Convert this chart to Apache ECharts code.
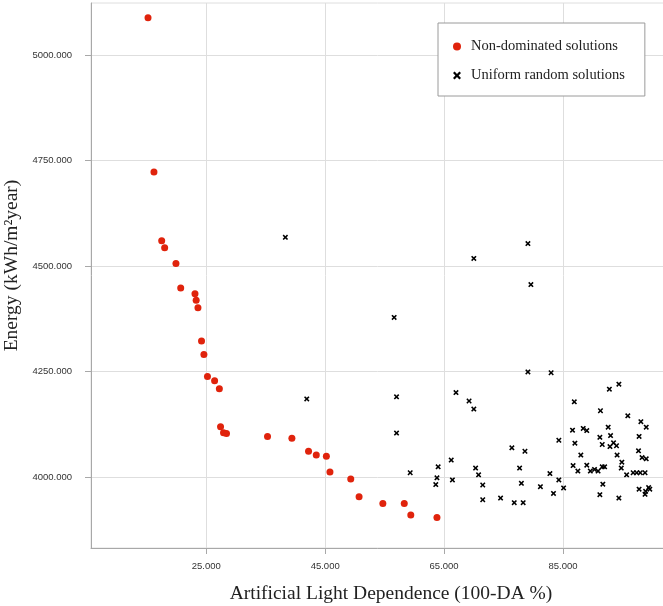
<!DOCTYPE html>
<html>
<head>
<meta charset="utf-8">
<script src="https://cdn.jsdelivr.net/npm/echarts@6/dist/echarts.min.js"></script>
<style>
  html, body { margin: 0; padding: 0; background: #fff; }
  #chart { width: 663px; height: 606px; }
</style>
</head>
<body>
<div id="chart"></div>
<script>
// non-dominated solutions (red dots)
const paretoX = [15.2, 16.2, 17.5, 18.0, 19.9, 20.7, 23.1, 23.3, 23.6, 24.2, 24.6, 25.2, 26.4, 27.2, 27.4,
  27.9, 28.4, 35.3, 39.4, 42.2, 43.5, 45.2, 45.8, 49.3, 50.7, 54.7, 58.3, 59.4, 63.8];
const paretoY = [5088, 4723, 4560, 4543, 4506, 4448, 4434, 4419, 4401, 4322, 4290, 4238, 4228, 4209, 4119,
  4105, 4103, 4096, 4092, 4061, 4052, 4049, 4012, 3995, 3953, 3937, 3937, 3910, 3904];

// uniform random solutions (black crosses)
const randomX = [38.3, 56.6, 41.9, 57.0, 79.1, 70.0, 79.6, 79.1, 83.0, 67.0, 92.8, 94.4, 57.0, 59.3, 64.0,
  63.8, 63.6, 69.2, 70.0, 76.4, 78.6, 84.3, 66.2, 70.3, 70.8, 77.7, 66.4, 71.5, 78.0, 81.2,
  82.8, 83.4, 84.3, 71.5, 74.5, 76.8, 78.3, 85.1, 86.9, 86.6, 87.0, 88.0, 86.7, 87.5, 88.4,
  89.0, 89.0, 89.6, 90.3, 90.9, 91.3, 91.2, 91.6, 91.6, 92.0, 91.7, 91.2, 92.6, 93.0, 92.9,
  93.5, 94.0, 94.1, 95.9, 94.4, 94.9, 94.8, 95.7, 96.8, 97.4, 98.0, 98.8, 97.8, 97.7, 98.1,
  99.0, 98.3, 99.0, 97.8, 98.8, 99.4, 99.6, 98.9];
const randomY = [4568, 4378, 4185, 4190, 4553, 4518, 4456, 4249, 4247, 4200, 4208, 4220, 4104, 4010, 4024,
  3998, 3982, 4180, 4161, 4069, 4061, 4087, 4040, 4021, 4005, 4021, 3993, 3981, 3985, 3977,
  4008, 3961, 3993, 3946, 3950, 3939, 3939, 3974, 4178, 4111, 4080, 4052, 4027, 4014, 4115,
  4110, 4028, 4014, 4018, 4014, 4157, 4094, 4077, 4024, 4024, 3983, 3958, 4118, 4098, 4072,
  4081, 4074, 4052, 4145, 3950, 4035, 4021, 4005, 4010, 4010, 4010, 4010, 4096, 4062, 4131,
  4118, 4046, 4043, 3971, 3959, 3975, 3971, 3966];

const xTicks = [25, 45, 65, 85];
const yTicks = [4000, 4250, 4500, 4750, 5000];

const zip = (xs, ys) => xs.map((x, i) => [x, ys[i]]);

const crossPath = 'path://M0,2L2,0L5,3L8,0L10,2L7,5L10,8L8,10L5,7L2,10L0,8L3,5Z';
const serif = '"Liberation Serif", "Times New Roman", serif';
const sans = '"Liberation Sans", Arial, sans-serif';

const axisLineStyle = { color: '#a8a8a8', width: 1 };
const splitLineStyle = { color: '#dedede', width: 1 };

const chart = echarts.init(document.getElementById('chart'));
chart.setOption({
  animation: false,
  backgroundColor: '#fff',
  // plot area runs past the right edge of the picture
  grid: {
    left: 91, top: 3, width: 600, height: 545,
    outerBoundsMode: 'none',
    containLabel: false,
    show: true, borderColor: '#dedede', borderWidth: 1,
  },
  legend: {
    orient: 'vertical',
    left: 438, top: 23,
    padding: [16, 20, 13, 15],
    itemGap: 14,
    itemWidth: 18, itemHeight: 8,
    backgroundColor: '#fff',
    borderColor: '#9a9a9a', borderWidth: 1,
    textStyle: { fontFamily: serif, fontSize: 14.5, color: '#222' },
    data: ['Non-dominated solutions', 'Uniform random solutions'],
  },
  xAxis: {
    type: 'value',
    min: 5.61, max: 106.53,
    name: 'Artificial Light Dependence (100-DA %)',
    nameLocation: 'middle',
    nameGap: 36,
    nameTextStyle: { fontFamily: serif, fontSize: 19.5, color: '#222' },
    axisLine: { show: true, lineStyle: axisLineStyle },
    axisTick: { show: true, length: 6, lineStyle: axisLineStyle, customValues: xTicks },
    axisLabel: {
      customValues: xTicks, margin: 13,
      fontFamily: sans, fontSize: 9.5, color: '#333',
      formatter: (v) => v.toFixed(3),
    },
    splitLine: { show: true, lineStyle: splitLineStyle },
  },
  yAxis: {
    type: 'value',
    min: 3831.7, max: 5123.2,
    name: 'Energy (kWh/m²year)',
    nameLocation: 'middle',
    nameGap: 68,
    nameTextStyle: { fontFamily: serif, fontSize: 19.5, color: '#222', padding: [0, 0, 0, 20] },
    axisLine: { show: true, lineStyle: axisLineStyle },
    axisTick: { show: true, length: 6, lineStyle: axisLineStyle, customValues: yTicks },
    axisLabel: {
      customValues: yTicks, margin: 19,
      fontFamily: sans, fontSize: 9.5, color: '#333',
      formatter: (v) => v.toFixed(3),
    },
    splitLine: { show: true, lineStyle: splitLineStyle },
  },
  series: [
    {
      name: 'Non-dominated solutions',
      type: 'scatter',
      symbol: 'circle',
      symbolSize: 7,
      itemStyle: { color: '#e0230c', opacity: 1 },
      data: zip(paretoX, paretoY),
      z: 3,
    },
    {
      name: 'Uniform random solutions',
      type: 'scatter',
      symbol: crossPath,
      symbolSize: 5.5,
      itemStyle: { color: '#000', opacity: 1 },
      data: zip(randomX, randomY),
      z: 2,
    },
  ],
});
</script>
</body>
</html>
